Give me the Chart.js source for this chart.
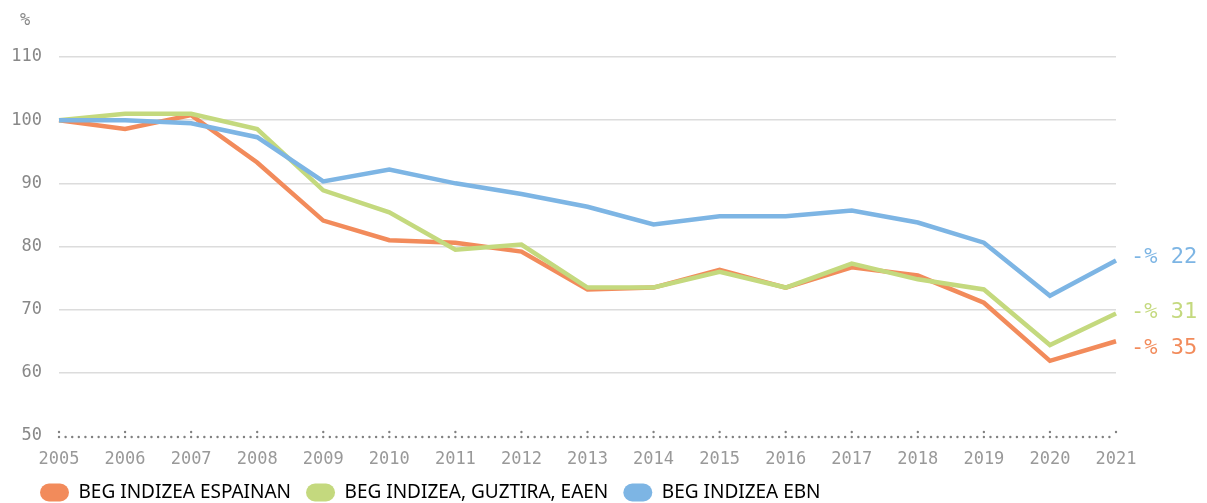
<!DOCTYPE html>
<html>
<head>
<meta charset="utf-8">
<script src="https://cdn.jsdelivr.net/npm/chart.js@4/dist/chart.umd.min.js"></script>
<style>
  html, body { margin: 0; padding: 0; background: #fff; overflow: hidden; }
  #wrap { width: 1207px; height: 512px; position: relative; }
</style>
</head>
<body>
<div id="wrap"><canvas id="c"></canvas></div>
<script>
const years = ['2005','2006','2007','2008','2009','2010','2011','2012','2013','2014','2015','2016','2017','2018','2019','2020','2021'];
const spainValues = [100, 98.6, 100.8, 93.3, 84.1, 81.0, 80.6, 79.2, 73.2, 73.5, 76.3, 73.5, 76.7, 75.4, 71.1, 61.9, 65.0];
const totalEaeValues = [100, 101.0, 101.0, 98.6, 88.9, 85.4, 79.5, 80.3, 73.5, 73.5, 76.0, 73.5, 77.3, 74.8, 73.2, 64.4, 69.4];
const ebnValues = [100, 100.0, 99.5, 97.3, 90.3, 92.2, 90.0, 88.3, 86.3, 83.5, 84.8, 84.8, 85.7, 83.8, 80.6, 72.2, 77.8];
const seriesNames = ['BEG INDIZEA ESPAINAN', 'BEG INDIZEA, GUZTIRA, EAEN', 'BEG INDIZEA EBN'];
const endLabels = ['-% 35', '-% 31', '-% 22'];
const yTicks = [50, 60, 70, 80, 90, 100, 110];
const unitLabel = '%';

const colors = ['#f28b5b', '#c4d97e', '#7db5e4'];
const monoFont = "'DejaVu Sans Mono', 'Liberation Mono', monospace";

function dot(ctx, x, y) {
  ctx.beginPath();
  ctx.arc(x, y, 1.2, 0, Math.PI * 2);
  ctx.fill();
}

const extrasPlugin = {
  id: 'extras',
  beforeDraw(chart) {
    if (chart.legend && !chart.legend._shifted) {
      chart.legend.left += 25;
      chart.legend.right += 25;
      chart.legend._shifted = true;
    }
  },
  afterLayout(chart) {
    if (chart.legend) chart.legend._shifted = false;
  },
  afterDraw(chart) {
    const ctx = chart.ctx;
    const area = chart.chartArea;
    const xs = chart.scales.x, ys = chart.scales.y;
    ctx.save();
    // dotted baseline with tick dots
    ctx.fillStyle = '#808080';
    const baseY = area.bottom + 1;
    for (let i = 0; i < xs.ticks.length; i++) {
      const px = xs.getPixelForTick(i);
      dot(ctx, px, baseY - 5);
      if (i < xs.ticks.length - 1) {
        const nx = xs.getPixelForTick(i + 1);
        const n = 10;
        for (let k = 0; k < n; k++) dot(ctx, px + (nx - px) * k / n, baseY);
      }
    }
    // unit label
    ctx.font = "17px " + monoFont;
    ctx.fillStyle = '#888';
    ctx.textAlign = 'left';
    ctx.textBaseline = 'middle';
    ctx.fillText(unitLabel, area.left - 39, area.top - 36);
    // end labels
    ctx.font = "22px " + monoFont;
    const offsets = [7, -1, -3];
    chart.data.datasets.forEach((ds, i) => {
      const last = ds.data[ds.data.length - 1];
      const py = ys.getPixelForValue(last) + offsets[i];
      ctx.fillStyle = colors[i];
      ctx.fillText(endLabels[i], area.right + 15, py);
    });
    ctx.restore();
  }
};

const datasets = [spainValues, totalEaeValues, ebnValues].map((vals, i) => ({
  label: seriesNames[i],
  data: vals,
  borderColor: colors[i],
  backgroundColor: colors[i],
  borderWidth: 4.5,
  pointRadius: 0,
  tension: 0,
  fill: false,
  order: 2 - i
}));

new Chart(document.getElementById('c'), {
  type: 'line',
  data: { labels: years, datasets },
  options: {
    responsive: true,
    maintainAspectRatio: false,
    animation: false,
    layout: { padding: { top: 57, right: 91, left: 0, bottom: 0 } },
    plugins: {
      tooltip: { enabled: false },
      legend: {
        position: 'bottom',
        align: 'start',
        labels: {
          boxWidth: 29,
          boxHeight: 18,
          useBorderRadius: true,
          borderRadius: 9,
          padding: 15,
          color: '#333',
          font: { family: "'Noto Sans', sans-serif", size: 19 },
          sort: (a, b) => a.datasetIndex - b.datasetIndex,
          generateLabels(chart) {
            return chart.data.datasets.map((ds, i) => ({
              text: ds.label,
              fillStyle: colors[i],
              strokeStyle: colors[i],
              lineWidth: 0,
              hidden: false,
              datasetIndex: i,
              borderRadius: 9
            }));
          }
        }
      }
    },
    scales: {
      x: {
        offset: false,
        grid: { display: false, drawTicks: false },
        border: { display: false },
        afterFit(axis) { axis.height = 32; },
        ticks: { color: '#999', font: { family: monoFont, size: 17 }, padding: 13, maxRotation: 0, autoSkip: false }
      },
      y: {
        min: 50,
        max: 110,
        afterBuildTicks(axis) { axis.ticks = yTicks.map(v => ({ value: v })); },
        afterFit(axis) { axis.width = 59; },
        grid: {
          drawTicks: false,
          lineWidth: 1.5,
          color: ctx => ctx.tick && ctx.tick.value === 50 ? 'rgba(0,0,0,0)' : '#dcdcdc'
        },
        border: { display: false },
        ticks: { color: '#888', font: { family: monoFont, size: 17 }, padding: 17 }
      }
    }
  },
  plugins: [extrasPlugin]
});
</script>
</body>
</html>
